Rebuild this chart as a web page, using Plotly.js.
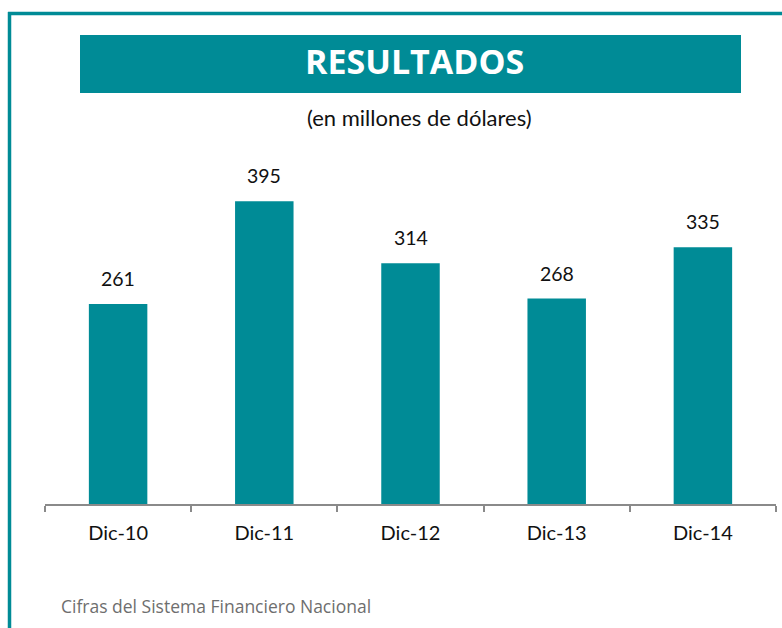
<!DOCTYPE html>
<html>
<head>
<meta charset="utf-8">
<script src="https://cdn.plot.ly/plotly-3.0.1.min.js"></script>
<style>
html,body{margin:0;padding:0;background:#fff;}
#chart{width:782px;height:628px;}
</style>
</head>
<body>
<div id="chart"></div>
<script>
const categories = ["Dic-10", "Dic-11", "Dic-12", "Dic-13", "Dic-14"];
const values = [261, 395, 314, 268, 335];
const valueLabels = ["261", "395", "314", "268", "335"];
const titleText = "RESULTADOS";
const subtitleText = "(en millones de dólares)";
const footerText = "Cifras del Sistema Financiero Nacional";

const W = 782, H = 628;
const M = {l: 45, r: 6, t: 159, b: 124};
const PW = W - M.l - M.r, PH = H - M.t - M.b;
const px = x => (x - M.l) / PW;
const py = y => (H - M.b - y) / PH;

const TEAL = "rgb(0,139,150)";

const trace = {
  type: "bar",
  x: categories,
  y: values,
  width: 0.4,
  marker: {color: TEAL},
  hoverinfo: "skip"
};

const annotations = categories.map((c, i) => ({
  x: c, y: values[i], xref: "x", yref: "y",
  text: valueLabels[i], showarrow: false,
  yanchor: "bottom", yshift: 12,
  font: {family: "Lato", size: 19.5, color: "#111"}
}));

annotations.push({
  x: px(414), y: py(61), xref: "paper", yref: "paper",
  text: "<b>" + titleText + "</b>", showarrow: false,
  xanchor: "center", yanchor: "middle",
  font: {family: "Open Sans", size: 34, color: "#fff"}
});
annotations.push({
  x: px(419), y: py(117), xref: "paper", yref: "paper",
  text: subtitleText, showarrow: false,
  xanchor: "center", yanchor: "middle",
  font: {family: "Lato", size: 22, color: "#111"}
});
annotations.push({
  x: px(59), y: py(606), xref: "paper", yref: "paper",
  text: footerText, showarrow: false,
  xanchor: "left", yanchor: "middle",
  font: {family: "Open Sans", size: 17.5, color: "#6e6e6e"}
});

const shapes = [
  {type: "rect", xref: "paper", yref: "paper", x0: px(80), x1: px(741), y0: py(93), y1: py(35),
   fillcolor: TEAL, line: {width: 0}, layer: "below"},
  {type: "line", xref: "paper", yref: "paper", x0: px(8), x1: px(782), y0: py(13.5), y1: py(13.5),
   line: {color: TEAL, width: 3.5}},
  {type: "line", xref: "paper", yref: "paper", x0: px(9.5), x1: px(9.5), y0: py(12), y1: py(628),
   line: {color: TEAL, width: 3.5}}
];

const layout = {
  width: W, height: H,
  margin: M,
  paper_bgcolor: "#fff", plot_bgcolor: "#fff",
  showlegend: false,
  xaxis: {
    type: "category",
    showline: true, linecolor: "#8a8a8a", linewidth: 2,
    ticks: "outside", tickson: "boundaries", ticklen: 6, tickcolor: "#8a8a8a", tickwidth: 2,
    tickfont: {family: "Lato", size: 20, color: "#111"},
    ticklabelstandoff: 10,
    showgrid: false, zeroline: false, fixedrange: true
  },
  yaxis: {
    range: [0, 450], visible: false, showgrid: false, zeroline: false, fixedrange: true
  },
  annotations: annotations,
  shapes: shapes
};

Plotly.newPlot("chart", [trace], layout, {displayModeBar: false, staticPlot: true});
</script>
</body>
</html>
